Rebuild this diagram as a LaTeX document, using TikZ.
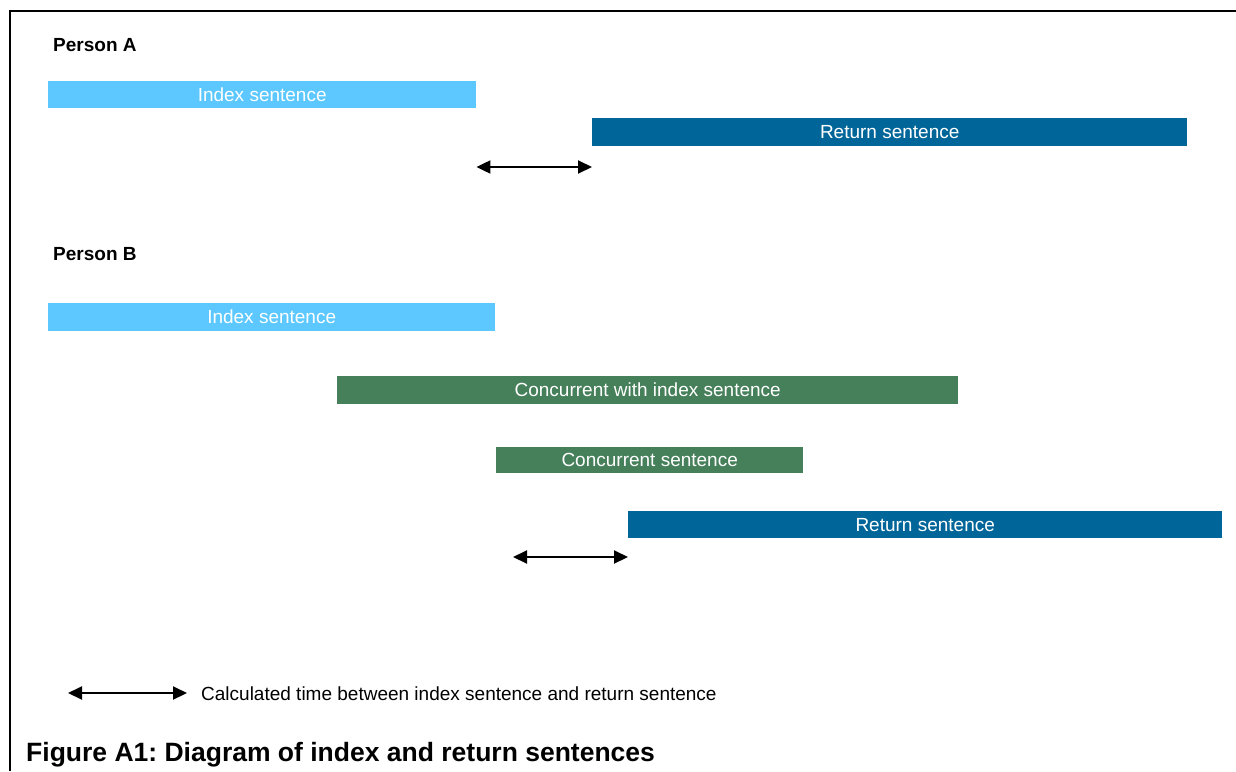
\documentclass[tikz,border=0pt]{standalone}
\usepackage{fontspec}
\setmainfont{Liberation Sans}
\usetikzlibrary{arrows.meta}
\definecolor{lightb}{RGB}{92,200,255}
\definecolor{darkb}{RGB}{0,102,153}
\definecolor{greenb}{RGB}{70,128,90}
\frenchspacing
\tikzset{
  bar/.style={anchor=north west, inner sep=0pt, draw=none, text=white,
    font=\fontsize{19}{22}\selectfont, minimum height=27pt},
  personlbl/.style={anchor=base west, inner sep=0pt, font=\bfseries\fontsize{19}{22}\selectfont},
  gap/.style={line width=2pt, {Triangle[length=14pt,width=13pt]}-{Triangle[length=14pt,width=13pt]}},
  frameline/.style={line width=2.5pt, black}
}
\begin{document}
\begin{tikzpicture}[x=1pt,y=-1pt]
\useasboundingbox (0,0) rectangle (1236,771);
% frame
\coordinate (fTL) at (10,11);
\coordinate (fTR) at (1236,11);
\coordinate (fBL) at (10,771);
\draw[frameline] (fBL) -- (fTL) -- (fTR);

% Person A
\node[personlbl] (pa) at (53,51) {Person A};
\node[bar, fill=lightb, minimum width=428pt] (idxA) at (48,81) {Index sentence};
\node[bar, fill=darkb, minimum width=595pt, minimum height=28pt] (retA) at (592,118) {Return sentence};
\coordinate (aL) at (idxA.east |- 0,167);
\coordinate (aR) at (retA.west |- 0,167);
\draw[gap] (aL) -- (aR);

% Person B
\node[personlbl] (pb) at (53,260) {Person B};
\node[bar, fill=lightb, minimum width=447pt, minimum height=28pt] (idxB) at (48,303) {Index sentence};
\node[bar, fill=greenb, minimum width=621pt, minimum height=28pt] (conI) at (337,376) {Concurrent with index sentence};
\node[bar, fill=greenb, minimum width=307pt, minimum height=26pt] (con) at (496,447) {Concurrent sentence};
\node[bar, fill=darkb, minimum width=594pt] (retB) at (628,511) {Return sentence};
\coordinate (bL) at (513,557);
\coordinate (bR) at (retB.west |- 0,557);
\draw[gap] (bL) -- (bR);

% legend
\coordinate (lL) at (68,693);
\coordinate (lR) at (187,693);
\draw[gap] (lL) -- (lR);
\node[anchor=base west, inner sep=0pt, font=\fontsize{19}{22}\selectfont] (leg) at (201,700) {Calculated time between index sentence and return sentence};

% caption
\node[anchor=base west, inner sep=0pt, font=\bfseries\fontsize{26.5}{30}\selectfont] (cap) at (26,761) {Figure A1: Diagram of index and return sentences};
\end{tikzpicture}
\end{document}
